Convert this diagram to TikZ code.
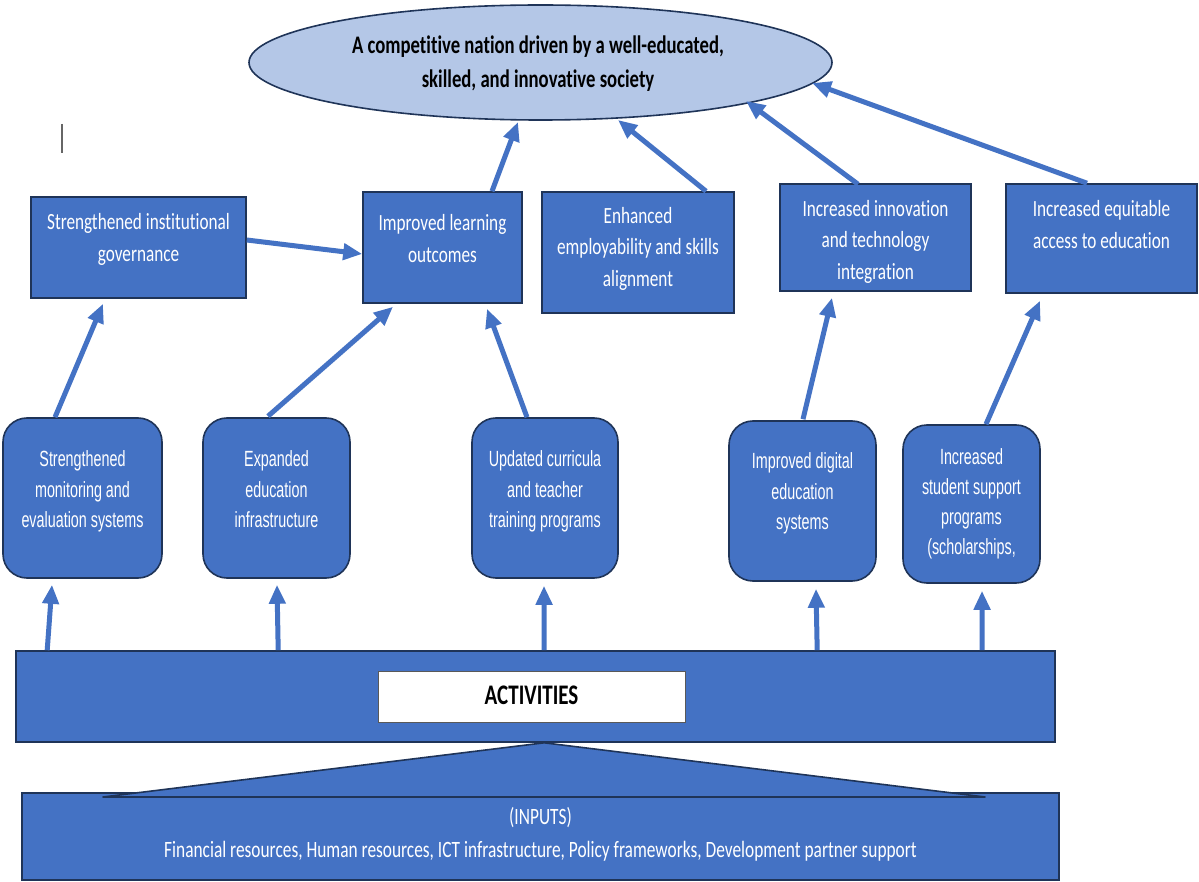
\documentclass[tikz,border=0pt]{standalone}
\usepackage{fontspec}
\usepackage{graphicx}
\setmainfont{Carlito}[Ligatures=CommonOff]
\newfontfamily\narrowf{Liberation Sans}[FakeStretch=0.88]
\usetikzlibrary{arrows.meta,shapes.geometric,calc}
\definecolor{boxblue}{HTML}{4472C4}
\definecolor{edgec}{HTML}{1F3458}
\definecolor{ellfill}{HTML}{B4C7E7}
\definecolor{arrowblue}{HTML}{4472C4}
\newcommand{\vtext}[4]{\scalebox{1}[1.35]{#1\fontsize{#2}{#3}\selectfont\begin{tabular}{@{}c@{}}#4\end{tabular}}}
\tikzset{
  outbox/.style={draw=edgec, line width=1.6pt, fill=boxblue, rectangle, inner sep=0pt},
  rbox/.style={draw=edgec, line width=1.6pt, fill=boxblue, rectangle, rounded corners=24pt, inner sep=0pt},
  wtxt/.style={text=white, inner sep=0pt},
  btxt/.style={text=black, inner sep=0pt},
  arr/.style={draw=arrowblue, line width=5pt, -{Triangle[width=16pt,length=19pt]}},
}
\begin{document}
\begin{tikzpicture}[x=1pt,y=-1pt]
\useasboundingbox (0,0) rectangle (1199,882);
\fill[white] (0,0) rectangle (1199,882);

% goal ellipse
\node[ellipse, draw=edgec, line width=1.6pt, fill=ellfill, minimum width=583pt, minimum height=115pt, inner sep=0pt] (goal) at (540.5,62.5) {};
\node[btxt] (goalt) at (538,64) {\vtext{\bfseries}{18.7}{25}{A competitive nation driven by a well-educated,\\ skilled, and innovative society}};
\coordinate (g1) at (518,122);
\coordinate (g2) at (618,120);
\coordinate (g3) at (746,101);
\coordinate (g4) at (812,83);

% cursor mark
\draw[gray!80!black, line width=1.2pt] (62,124) -- (62,153);

% outcome boxes
\node[outbox, minimum width=215pt, minimum height=101pt] (b1) at (138.5,247.5) {};
\node[wtxt] (b1t) at (138.5,239.5) {\vtext{}{17.2}{23.5}{Strengthened institutional\\ governance}};
\node[outbox, minimum width=159pt, minimum height=111pt] (b2) at (442.5,247.5) {};
\node[wtxt] (b2t) at (442.5,240) {\vtext{}{17.2}{23.5}{Improved learning\\ outcomes}};
\node[outbox, minimum width=192pt, minimum height=121pt] (b3) at (638,252.5) {};
\node[wtxt] (b3t) at (638,248.5) {\vtext{}{17.2}{23.5}{Enhanced\\ employability and skills\\ alignment}};
\node[outbox, minimum width=191pt, minimum height=107pt] (b4) at (875.5,237.5) {};
\node[wtxt] (b4t) at (875.5,241.5) {\vtext{}{17.2}{23.5}{Increased innovation\\ and technology\\ integration}};
\node[outbox, minimum width=191pt, minimum height=109pt] (b5) at (1101.5,238.5) {};
\node[wtxt] (b5t) at (1101.5,226) {\vtext{}{17.2}{23.5}{Increased equitable\\ access to education}};

% output boxes
\node[rbox, minimum width=159pt, minimum height=160pt] (r1) at (82.5,498) {};
\node[wtxt] (r1t) at (82.5,491) {\vtext{\narrowf}{16.3}{22.4}{Strengthened\\ monitoring and\\ evaluation systems}};
\node[rbox, minimum width=147pt, minimum height=160pt] (r2) at (276.5,498) {};
\node[wtxt] (r2t) at (276.5,491) {\vtext{\narrowf}{16.3}{22.4}{Expanded\\ education\\ infrastructure}};
\node[rbox, minimum width=146pt, minimum height=160pt] (r3) at (545,498) {};
\node[wtxt] (r3t) at (545,491) {\vtext{\narrowf}{16.3}{22.4}{Updated curricula\\ and teacher\\ training programs}};
\node[rbox, minimum width=147pt, minimum height=160pt] (r4) at (802.5,501) {};
\node[wtxt] (r4t) at (802.5,493) {\vtext{\narrowf}{16.3}{22.4}{Improved digital\\ education\\ systems}};
\node[rbox, minimum width=137pt, minimum height=158pt] (r5) at (971.5,504) {};
\node[wtxt] (r5t) at (971.5,503.5) {\vtext{\narrowf}{16.3}{22.4}{Increased\\ student support\\ programs\\ (scholarships,}};

% inputs
\node[outbox, minimum width=1037pt, minimum height=87pt] (inp) at (540.5,836.5) {};
\node[wtxt] (inpt) at (540.5,834) {\vtext{}{17.35}{24.5}{(INPUTS)\\ Financial resources, Human resources, ICT infrastructure, Policy frameworks, Development partner support}};

% activities
\node[outbox, minimum width=1039pt, minimum height=91pt] (act) at (535.5,696.5) {};
\node[draw=gray!70!black, line width=0.8pt, fill=white, minimum width=307pt, minimum height=51pt, inner sep=0pt] (actl) at (531.5,696.5) {};
\node[btxt] (actt) at (531.5,698.5) {\vtext{\bfseries}{21}{24}{ACTIVITIES}};

% connecting wedge
\coordinate (wl) at (103,797);
\coordinate (wr) at (985,797);
\coordinate (wa) at ($(act.south west)+(529,0)$);
\fill[boxblue] (wl) -- (wa) -- (wr) -- cycle;
\draw[edgec, line width=1.6pt, line join=round] (wl) -- (wa) -- (wr) -- cycle;

% arrows activities -> outputs
\draw[arr] ($(act.north west)+(32,0)$) -- ($(r1.south)+(-30.5,6)$);
\draw[arr] ($(act.north west)+(263,0)$) -- ($(r2.south)+(0.5,6)$);
\draw[arr] ($(act.north west)+(529,0)$) -- ($(r3.south)+(-1,7)$);
\draw[arr] ($(act.north west)+(802,0)$) -- ($(r4.south)+(13.5,7)$);
\draw[arr] ($(act.north west)+(967,0)$) -- ($(r5.south)+(10.5,7)$);

% arrows outputs -> outcomes
\draw[arr] ($(r1.north)+(-27.5,0)$) -- ($(b1.south)+(-35.5,5)$);
\draw[arr] ($(r2.north)+(-8.5,-1)$) -- ($(b2.south)+(-49.5,3)$);
\draw[arr] ($(r3.north)+(-18,0)$) -- ($(b2.south)+(44.5,5)$);
\draw[arr] ($(r4.north)+(0.5,-1)$) -- ($(b4.south)+(-43.5,6)$);
\draw[arr] ($(r5.north)+(14.5,0)$) -- ($(b5.south)+(-61.5,7)$);

% outcome -> outcome
\draw[arr] ($(b1.east)+(0,-7.5)$) -- ($(b2.west)+(0,6.5)$);

% outcomes -> goal
\draw[arr] ($(b2.north)+(49.5,0)$) -- (g1);
\draw[arr] ($(b3.north)+(68,0)$) -- (g2);
\draw[arr] ($(b4.north)+(-17.5,1)$) -- (g3);
\draw[arr] ($(b5.north)+(-14.5,0)$) -- (g4);
\end{tikzpicture}
\end{document}
